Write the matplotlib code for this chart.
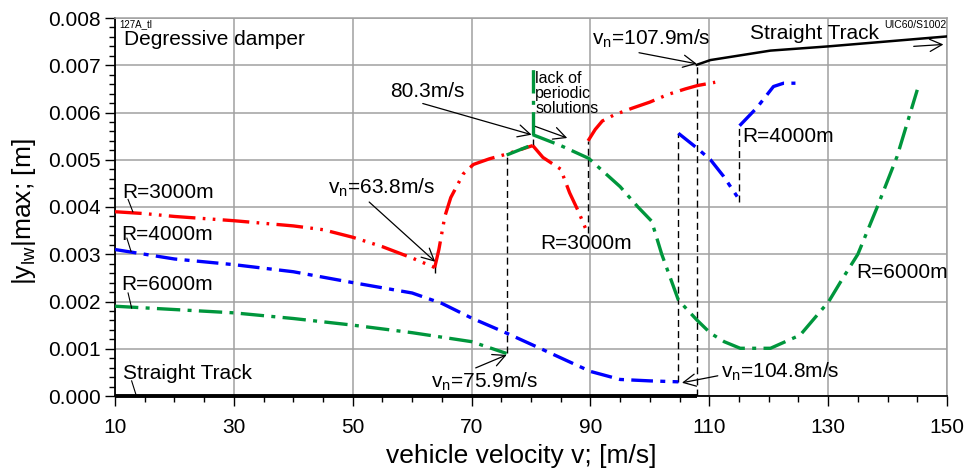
import matplotlib
matplotlib.use("Agg")
import matplotlib.pyplot as plt
from matplotlib.ticker import MultipleLocator, FormatStrFormatter

plt.rcParams["font.family"] = ["Liberation Sans", "DejaVu Sans"]
plt.rcParams["mathtext.fontset"] = "custom"
plt.rcParams["mathtext.rm"] = "Liberation Sans"
plt.rcParams["mathtext.it"] = "Liberation Sans"

# R=3000m (red)
r3000_low_v = [10, 15, 20, 30, 40, 45, 50, 55, 60, 63.8]
r3000_low_y = [0.0039, 0.00386, 0.0038, 0.00371, 0.0036, 0.00352, 0.00336, 0.00316, 0.00292, 0.00272]
r3000_up1_v = [63.8, 64.5, 65.5, 66.5, 68.6, 70.3, 73, 75.9, 80.3]
r3000_up1_y = [0.00272, 0.0031, 0.0038, 0.0042, 0.0047, 0.0049, 0.00502, 0.00512, 0.0053]
r3000_dn_v = [80.3, 82, 85, 86.5, 88, 89.5]
r3000_dn_y = [0.0053, 0.00505, 0.0048, 0.0043, 0.0039, 0.00345]
r3000_up2_v = [89.6, 90.8, 92, 94, 97, 100, 103, 106, 108, 111]
r3000_up2_y = [0.0054, 0.00564, 0.00582, 0.00595, 0.00609, 0.00622, 0.00638, 0.0065, 0.00657, 0.00664]

# R=4000m (blue)
r4000_low_v = [10, 15, 20, 30, 40, 50, 60, 65, 70, 75.9, 81.5, 86, 90, 95, 100, 104.8]
r4000_low_y = [0.0031, 0.003, 0.0029, 0.00278, 0.00263, 0.0024, 0.00218, 0.00196, 0.00165,
               0.00133, 0.00101, 0.00075, 0.00052, 0.00035, 0.00032, 0.0003]
r4000_mid_v = [104.8, 107.9, 110.2, 112.4, 114.7]
r4000_mid_y = [0.00556, 0.00525, 0.005, 0.00465, 0.00422]
r4000_up_v = [115.1, 118, 120.8, 122.5, 124.5]
r4000_up_y = [0.00572, 0.0061, 0.00655, 0.00662, 0.00662]

# R=6000m (green)
r6000_low_v = [10, 20, 30, 40, 50, 60, 70, 75.9]
r6000_low_y = [0.0019, 0.00183, 0.00176, 0.00164, 0.0015, 0.00134, 0.00115, 0.0009]
r6000_mid_v = [75.9, 80.3]
r6000_mid_y = [0.0051, 0.00532]
r6000_gap_v = [80.3, 80.3]
r6000_gap_y = [0.00553, 0.0070]
r6000_up_v = [80.3, 85, 89.7, 95, 98, 100.3, 102, 104.8, 107.9, 110.2, 112.5, 115.2, 120.3,
              125.3, 130.1, 132.5, 135, 138.2, 141.6, 145]
r6000_up_y = [0.00553, 0.0053, 0.00503, 0.00443, 0.0040, 0.0037, 0.0030, 0.00203, 0.00161,
              0.00133, 0.00115, 0.00101, 0.00101, 0.00129, 0.0020, 0.0025, 0.0030, 0.00398,
              0.00507, 0.00648]

# straight track (black)
st_low_v = [10, 107.9]
st_low_y = [0.0, 0.0]
st_up_v = [107.9, 110.2, 120.3, 130.1, 150]
st_up_y = [0.00701, 0.00711, 0.00731, 0.0074, 0.00761]

# dashed vertical markers: velocity, y from, y to
jump_v = [63.8, 75.9, 80.3, 89.6, 104.8, 107.9, 115.0]
jump_lo = [0.0026, 0.0009, 0.0053, 0.00345, 0.0003, 0.0, 0.0041]
jump_hi = [0.0029, 0.0051, 0.00553, 0.0054, 0.00556, 0.00701, 0.00572]

x_ticks = [10, 30, 50, 70, 90, 110, 130, 150]

RED, BLUE, GREEN = "#ff0000", "#0000ff", "#00963c"
LW = 2.4
red_ls = (0, (8, 2.2, 0.8, 2.2, 0.8, 2.2))
blue_ls = (0, (6.5, 2.2, 1.5, 2.2))
green_ls = (0, (7, 2.2, 1.2, 2.2))

fig = plt.figure(figsize=(9.66, 4.70), dpi=100)
ax = fig.add_axes([115/966, 74/470, 832/966, 378/470])

ax.set_xlim(10, 150)
ax.set_ylim(0, 0.008)
ax.set_xticks(x_ticks)
ax.xaxis.set_minor_locator(MultipleLocator(5))
ax.yaxis.set_major_locator(MultipleLocator(0.001))
ax.yaxis.set_minor_locator(MultipleLocator(0.0002))
ax.yaxis.set_major_formatter(FormatStrFormatter("%.3f"))
ax.grid(True, which="major", color="#a0a0a0", lw=1.1, zorder=0)
ax.tick_params(which="major", length=7, width=1.0, labelsize=15, color="black")
ax.tick_params(which="minor", length=4, width=1.0, color="black")
ax.tick_params(axis="x", pad=9)
for s in ["top", "right"]:
    ax.spines[s].set_color("#a0a0a0")
    ax.spines[s].set_linewidth(1.1)
for s in ["left", "bottom"]:
    ax.spines[s].set_linewidth(1.3)

# vertical dashed markers
for v, lo, hi in zip(jump_v, jump_lo, jump_hi):
    ax.plot([v, v], [lo, hi], color="black", lw=1.0, ls=(0, (5, 3)), zorder=3)

ax.plot(r3000_low_v, r3000_low_y, color=RED, lw=LW, ls=red_ls, zorder=4)
ax.plot(r3000_up1_v, r3000_up1_y, color=RED, lw=LW, ls=red_ls, zorder=4)
ax.plot(r3000_dn_v, r3000_dn_y, color=RED, lw=LW, ls=red_ls, zorder=4)
ax.plot(r3000_up2_v, r3000_up2_y, color=RED, lw=LW, ls=red_ls, zorder=4)

ax.plot(r4000_low_v, r4000_low_y, color=BLUE, lw=LW, ls=blue_ls, zorder=4)
ax.plot(r4000_mid_v, r4000_mid_y, color=BLUE, lw=LW, ls=blue_ls, zorder=4)
ax.plot(r4000_up_v, r4000_up_y, color=BLUE, lw=LW, ls=blue_ls, zorder=4)

ax.plot(r6000_low_v, r6000_low_y, color=GREEN, lw=LW, ls=green_ls, zorder=4)
ax.plot(r6000_mid_v, r6000_mid_y, color=GREEN, lw=LW, ls=green_ls, zorder=5)
ax.plot(r6000_gap_v, r6000_gap_y, color=GREEN, lw=LW, ls=green_ls, zorder=4)
ax.plot(r6000_up_v, r6000_up_y, color=GREEN, lw=LW, ls=green_ls, zorder=4)

ax.plot(st_low_v, st_low_y, color="black", lw=2.8, solid_capstyle="butt", clip_on=False, zorder=6)
ax.plot(st_up_v, st_up_y, color="black", lw=1.8, zorder=6)

# texts
fs = 15
ax.text(10.8, 0.00788, "127A_tl", fontsize=7, va="center", ha="left")
ax.text(11.5, 0.00754, "Degressive damper", fontsize=fs, va="center", ha="left")
ax.text(116.9, 0.00768, "Straight Track", fontsize=fs, va="center", ha="left")
ax.text(139.5, 0.00786, "UIC60/S1002", fontsize=7.5, va="center", ha="left")
ax.text(80.7, 0.00687, "lack of\nperiodic\nsolutions", fontsize=11.5, va="top", ha="left",
        linespacing=1.0)
ax.text(11.3, 0.00431, "R=3000m", fontsize=fs, va="center", ha="left")
ax.text(11.0, 0.00341, "R=4000m", fontsize=fs, va="center", ha="left")
ax.text(11.0, 0.00235, "R=6000m", fontsize=fs, va="center", ha="left")
ax.text(11.3, 0.00048, "Straight Track", fontsize=fs, va="center", ha="left")
ax.text(81.5, 0.00323, "R=3000m", fontsize=fs, va="center", ha="left")
ax.text(115.5, 0.00549, "R=4000m", fontsize=fs, va="center", ha="left")
ax.text(134.8, 0.00261, "R=6000m", fontsize=fs, va="center", ha="left")

# leader lines for the left labels
thin = dict(color="black", lw=0.8, zorder=7)
ax.plot([12.2, 13.0], [0.00416, 0.0039], **thin)
ax.plot([12.0, 12.7], [0.00334, 0.00306], **thin)
ax.plot([12.2, 12.8], [0.00218, 0.00186], **thin)
ax.plot([12.8, 13.6], [0.00032, 0.0], **thin)

arrow = dict(arrowstyle="->", color="black", lw=0.9, mutation_scale=22,
             shrinkA=0, shrinkB=0)
ax.annotate("80.3m/s", xy=(80.1, 0.00553), xytext=(56.3, 0.00645), fontsize=fs,
            va="center", ha="left", arrowprops=dict(arrow, relpos=(0.13, 0.2)))
ax.annotate("", xy=(86.1, 0.00546), xytext=(80.4, 0.00572), arrowprops=arrow)
ax.annotate("v$_{\\mathregular{n}}$=63.8m/s", xy=(63.9, 0.00284), xytext=(45.9, 0.0044),
            fontsize=fs, va="center", ha="left", arrowprops=dict(arrow, relpos=(0.33, 0.1)))
ax.annotate("v$_{\\mathregular{n}}$=75.9m/s", xy=(75.9, 0.00087), xytext=(63.2, 0.0003),
            fontsize=fs, va="center", ha="left", arrowprops=dict(arrow, relpos=(0.33, 0.95)))
ax.annotate("v$_{\\mathregular{n}}$=104.8m/s", xy=(105.4, 0.00028), xytext=(111.9, 0.00051),
            fontsize=fs, va="center", ha="left", arrowprops=dict(arrow, relpos=(0.0, 0.35)))
ax.annotate("v$_{\\mathregular{n}}$=107.9m/s", xy=(107.9, 0.00703), xytext=(90.2, 0.00756),
            fontsize=fs, va="center", ha="left", arrowprops=dict(arrow, relpos=(0.18, 0.1)))
ax.annotate("", xy=(149.4, 0.00744), xytext=(144.4, 0.0074), arrowprops=arrow)

fig.text(521/966, 7/470, "vehicle velocity v; [m/s]", fontsize=19, ha="center", va="baseline")
fig.text(24/966, 1 - 212/470, "|y$_{\\mathregular{lw}}$|max; [m]", fontsize=19, rotation=90,
         ha="center", va="center")

fig.savefig("out.png", dpi=100)
